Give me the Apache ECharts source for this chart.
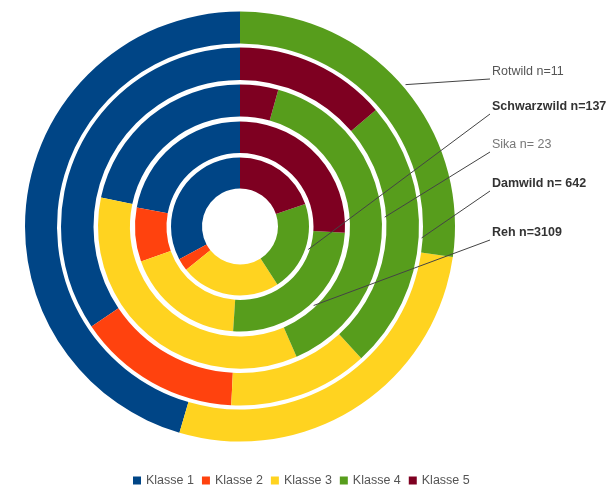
<!DOCTYPE html>
<html>
<head>
<meta charset="utf-8">
<script src="https://cdn.jsdelivr.net/npm/echarts@6/dist/echarts.min.js"></script>
<style>
html, body { margin: 0; padding: 0; background: #fff; }
#main { width: 609px; height: 489px; }
</style>
</head>
<body>
<div id="main"></div>
<script>
// Klassen und Farben
var classes = ['Klasse 1', 'Klasse 2', 'Klasse 3', 'Klasse 4', 'Klasse 5'];
var classColors = ['#004586', '#ff420e', '#ffd320', '#579d1c', '#7e0021'];

// Ringe von innen nach außen
var ringNames = ['Schwarzwild', 'Reh', 'Sika', 'Damwild', 'Rotwild'];
var ringLabels = ['Schwarzwild n=137', 'Reh n=3109', 'Sika n= 23', 'Damwild n= 642', 'Rotwild n=11'];
var schwarzwild = [45, 4, 32, 29, 27];
var reh = [687, 259, 576, 780, 807];
var sika = [5, 0, 8, 9, 1];
var damwild = [221, 95, 81, 157, 88];
var rotwild = [5, 0, 3, 3, 0];
var ringValues = [schwarzwild, reh, sika, damwild, rotwild];

// Layout
var cx = 240, cy = 226.5;
var ringRadius = [[38, 69], [73.5, 105], [110, 142], [146.5, 179], [183, 215]];
var labelY = [107, 233, 145, 184, 72];
var labelBold = [true, true, false, true, false];
var labelColor = ['#333', '#333', '#777', '#333', '#555'];
var lineAngle = [108.6, 137, 86.3, 93.6, 49.4]; // Grad, im Uhrzeigersinn ab 12 Uhr

var myChart = echarts.init(document.getElementById('main'));

var series = ringNames.map(function (name, i) {
    return {
        name: name,
        type: 'pie',
        // innere Ringe oben, damit die Linien über den äußeren liegen
        z: 10 - i,
        center: [cx, cy],
        radius: ringRadius[i],
        startAngle: 90,
        clockwise: false,
        avoidLabelOverlap: false,
        animation: false,
        silent: true,
        itemStyle: { borderWidth: 0 },
        label: {
            show: false,
            position: 'outside',
            formatter: ringLabels[i],
            width: 140,
            overflow: 'none',
            fontFamily: 'Liberation Sans',
            fontSize: 12.5,
            fontWeight: labelBold[i] ? 'bold' : 'normal',
            color: labelColor[i]
        },
        labelLine: {
            show: false,
            lineStyle: { color: '#444', width: 1 }
        },
        labelLayout: function () {
            var a = lineAngle[i] * Math.PI / 180;
            var r = ringRadius[i][1] + 3;
            var start = [cx + r * Math.sin(a), cy - r * Math.cos(a)];
            var end = [490, labelY[i] + 7];
            return {
                x: 492,
                y: labelY[i],
                align: 'left',
                verticalAlign: 'middle',
                labelLinePoints: [start, end, end]
            };
        },
        data: classes.map(function (c, j) {
            return {
                name: c,
                value: ringValues[i][j],
                itemStyle: { color: classColors[j] },
                label: { show: j === 3 },
                labelLine: { show: j === 3 }
            };
        })
    };
});

option = {
    backgroundColor: '#FFFFFF',
    animation: false,
    legend: {
        data: classes,
        left: 128,
        top: 469,
        icon: 'rect',
        itemWidth: 8,
        itemHeight: 8,
        itemGap: 8,
        selectedMode: false,
        textStyle: {
            color: '#555',
            fontFamily: 'Liberation Sans',
            fontSize: 12.5
        }
    },
    series: series
};
myChart.setOption(option);
</script>
</body>
</html>
